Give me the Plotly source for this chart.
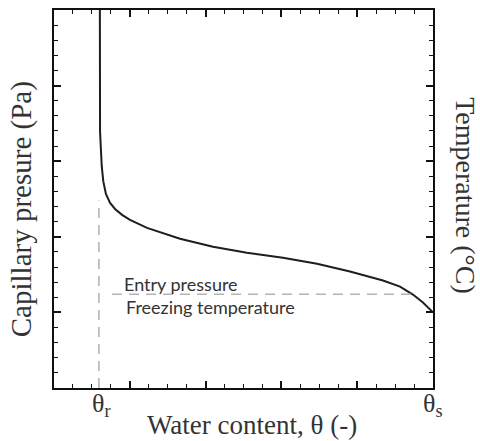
import plotly.graph_objects as go

# Retention curve (water content θ vs capillary pressure), in axis units
theta = [2.42, 2.43, 2.48, 2.52, 2.60, 2.74, 2.96, 3.22, 3.59, 4.01, 4.91, 6.65,
         8.39, 10.18, 12.08, 13.88, 15.62, 17.36, 18.26, 18.94, 19.47, 19.84, 20.0]
pressure = [25.0, 16.97, 15.66, 14.67, 13.68, 12.83, 12.24, 11.84, 11.45, 11.12,
            10.59, 9.87, 9.34, 8.95, 8.62, 8.22, 7.70, 7.11, 6.71, 6.18, 5.66, 5.2, 5.0]

theta_r = 2.37
theta_s = 20.0
entry_level = 6.2
entry_x = [3.06, 18.9]
theta_r_top = 12.4

x_range = [0, 20]
y_range = [0, 25]

serif = "Liberation Serif"
sans = "Lato"
dash_col = "#b4b4b4"
ink = "#111"

fig = go.Figure()
fig.add_trace(go.Scatter(x=theta, y=pressure, mode="lines",
                         line=dict(color="#1e1e1e", width=2), hoverinfo="skip"))
fig.add_trace(go.Scatter(x=entry_x, y=[entry_level, entry_level], mode="lines",
                         line=dict(color=dash_col, width=1.6, dash="10px,7px")))
fig.add_trace(go.Scatter(x=[theta_r, theta_r], y=[0, theta_r_top], mode="lines",
                         line=dict(color=dash_col, width=1.6, dash="10px,7px")))
# invisible trace to anchor the minor-tick overlay axes
fig.add_trace(go.Scatter(x=x_range, y=y_range, mode="markers", xaxis="x2", yaxis="y2",
                         marker=dict(opacity=0), hoverinfo="skip"))

common = dict(showgrid=False, zeroline=False, showticklabels=False,
              showline=True, linecolor=ink, linewidth=2, mirror="ticks",
              ticks="inside", tickcolor=ink)

fig.update_layout(
    xaxis=dict(range=x_range, dtick=4, tick0=0, ticklen=7, tickwidth=1.5, **common),
    yaxis=dict(range=y_range, dtick=5, tick0=0, ticklen=7, tickwidth=1.5, **common),
    xaxis2=dict(range=x_range, dtick=1, tick0=0, ticklen=4, tickwidth=1.3,
                overlaying="x", anchor="y2", side="bottom", **common),
    yaxis2=dict(range=y_range, dtick=1, tick0=0, ticklen=4, tickwidth=1.3,
                overlaying="y", anchor="x2", side="left", **common),
)

ann = []
ann.append(dict(x=3.6, y=6.9, xref="x", yref="y", text="Entry pressure", showarrow=False,
                xanchor="left", yanchor="middle", font=dict(family=sans, size=18, color="#333")))
ann.append(dict(x=3.7, y=5.33, xref="x", yref="y", text="Freezing temperature", showarrow=False,
                xanchor="left", yanchor="middle", font=dict(family=sans, size=18, color="#333")))
ann.append(dict(x=theta_r + 0.15, y=-0.045, xref="x", yref="paper", text="θ<sub>r</sub>",
                showarrow=False, xanchor="center", yanchor="middle",
                font=dict(family=serif, size=26, color="#333")))
ann.append(dict(x=theta_s, y=-0.045, xref="x", yref="paper", text="θ<sub>s</sub>",
                showarrow=False, xanchor="center", yanchor="middle",
                font=dict(family=serif, size=26, color="#333")))
ann.append(dict(x=0.522, y=-0.099, xref="paper", yref="paper", text="Water content, θ (-)",
                showarrow=False, xanchor="center", yanchor="middle",
                font=dict(family=serif, size=27, color="#333")))
ann.append(dict(x=-0.086, y=0.474, xref="paper", yref="paper", text="Capillary presure (Pa)",
                showarrow=False, xanchor="center", yanchor="middle", textangle=-90,
                font=dict(family=serif, size=29, color="#333")))
ann.append(dict(x=1.084, y=0.508, xref="paper", yref="paper", text="Temperature (°C)",
                showarrow=False, xanchor="center", yanchor="middle", textangle=90,
                font=dict(family=serif, size=28, color="#333")))

fig.update_layout(width=480, height=441, margin=dict(l=54, r=47, t=8, b=53),
                  paper_bgcolor="white", plot_bgcolor="white", showlegend=False,
                  annotations=ann)

fig.write_html("out.html", config={"displayModeBar": False},
               post_script="document.body.style.margin='0';document.body.style.padding='0';")
